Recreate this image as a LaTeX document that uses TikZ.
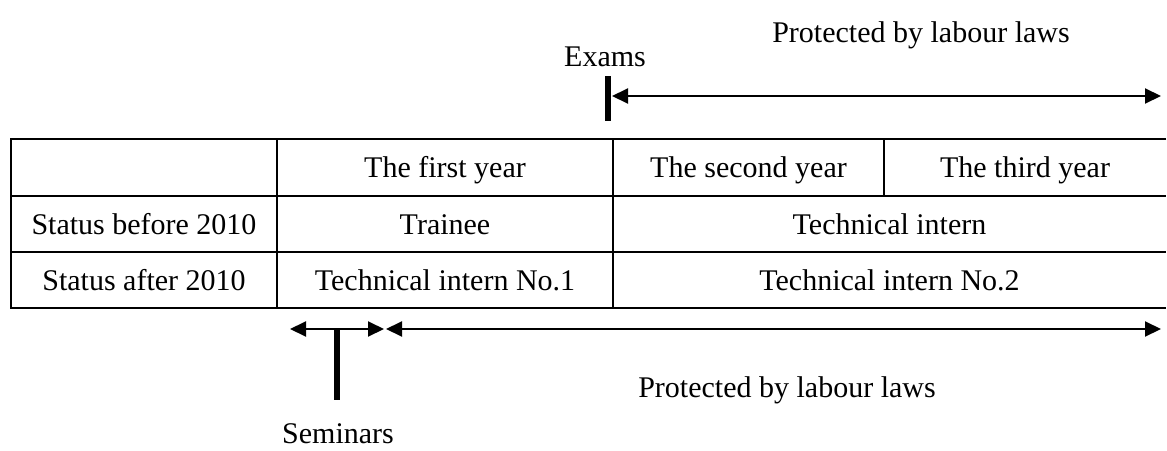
\documentclass[tikz,border=0pt]{standalone}
\usepackage{fontspec}
\setmainfont{Liberation Serif}
\usetikzlibrary{arrows.meta}
\begin{document}
\begin{tikzpicture}[x=1pt,y=-1pt,
  txt/.style={inner sep=0pt,anchor=base,font=\fontsize{30}{36}\selectfont},
  grid/.style={line width=2.5pt},
  span/.style={line width=2pt,{Triangle[length=16pt,width=15pt]}-{Triangle[length=16pt,width=15pt]}},
  bar/.style={line width=6pt}]
\useasboundingbox (0,0) rectangle (1167,450);
% table
\draw[grid] (1166,139) -- (11,139) -- (11,308) -- (1166,308);
\draw[grid] (11,196) -- (1166,196);
\draw[grid] (11,252) -- (1166,252);
\draw[grid] (277,139) -- (277,308);
\draw[grid] (613,139) -- (613,308);
\draw[grid] (884,139) -- (884,196);
% cells
\node[txt] (h1) at (445,177) {The first year};
\node[txt] (h2) at (748.5,177) {The second year};
\node[txt] (h3) at (1025,177) {The third year};
\node[txt] (r1) at (144,234) {Status before 2010};
\node[txt] (r1a) at (445,234) {Trainee};
\node[txt] (r1b) at (889.5,234) {Technical intern};
\node[txt] (r2) at (144,290) {Status after 2010};
\node[txt] (r2a) at (445,290) {Technical intern No.1};
\node[txt] (r2b) at (889.5,290) {Technical intern No.2};
% top
\coordinate (ebt) at (608,76);
\coordinate (ebb) at (608,121);
\draw[bar] (ebt) -- (ebb);
\coordinate (ta) at (612,96);
\coordinate (tb) at (1161,96);
\draw[span] (ta) -- (tb);
\node[txt] (exams) at (605,66) {Exams};
\node[txt] (plt) at (921,42) {Protected by labour laws};
% bottom
\coordinate (ba) at (290,329);
\coordinate (bb) at (384,329);
\coordinate (bc) at (386,329);
\coordinate (bd) at (1161,329);
\draw[span] (ba) -- (bb);
\draw[span] (bc) -- (bd);
\coordinate (sbt) at (337,330);
\coordinate (sbb) at (337,400);
\draw[bar] (sbt) -- (sbb);
\node[txt] (plb) at (787,397) {Protected by labour laws};
\node[txt] (sem) at (338,443) {Seminars};
\end{tikzpicture}
\end{document}
